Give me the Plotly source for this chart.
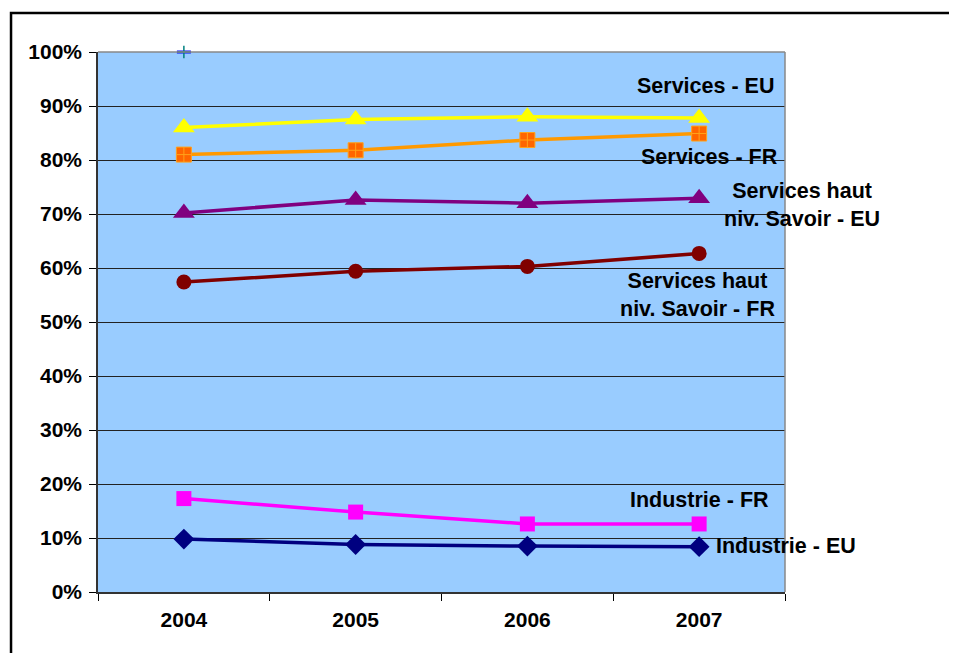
import plotly.graph_objects as go

years = ["2004", "2005", "2006", "2007"]
services_eu = [0.860, 0.875, 0.880, 0.878]
services_fr = [0.810, 0.818, 0.837, 0.849]
savoir_eu = [0.702, 0.726, 0.720, 0.729]
savoir_fr = [0.574, 0.594, 0.603, 0.627]
industrie_fr = [0.173, 0.148, 0.126, 0.126]
industrie_eu = [0.098, 0.088, 0.085, 0.084]
stray_year = ["2004"]
stray_value = [1.0]

FONT = "Liberation Sans, Arial, sans-serif"

fig = go.Figure()

def add_series(y, line_color, symbol, fill, size, edge=None, edge_w=0):
    fig.add_trace(go.Scatter(
        x=years, y=y, mode="lines+markers",
        line=dict(color=line_color, width=3.5),
        marker=dict(symbol=symbol, color=fill, size=size,
                    line=dict(color=edge or fill, width=edge_w)),
        showlegend=False, cliponaxis=False,
    ))

add_series(services_eu, "#FFFF00", "triangle-up", "#FFFF00", 19)
add_series(services_fr, "#FF9900", "square-cross", "#FF6600", 15, "#FFA31A", 1)
add_series(savoir_eu, "#800080", "triangle-up", "#800080", 19)
add_series(savoir_fr, "#800000", "circle", "#800000", 15)
add_series(industrie_fr, "#FF00FF", "square", "#FF00FF", 15)
add_series(industrie_eu, "#000080", "diamond", "#000080", 16)

# stray marker at 100%
fig.add_trace(go.Scatter(x=stray_year, y=stray_value, mode="markers",
                         marker=dict(symbol="line-ew", size=10,
                                     line=dict(color="#0000FF", width=3)),
                         showlegend=False, cliponaxis=False))
fig.add_trace(go.Scatter(x=stray_year, y=stray_value, mode="markers",
                         marker=dict(symbol="cross-thin", size=9,
                                     line=dict(color="#008080", width=1.5)),
                         showlegend=False, cliponaxis=False))

# series labels (paper coordinates)
labels = [
    ("Services - EU", 0.987, 0.937, "right"),
    ("Services - FR", 0.993, 0.806, "right"),
    ("Services haut<br>niv. Savoir - EU", 1.025, 0.717, "center"),
    ("Services haut<br>niv. Savoir - FR", 0.872, 0.550, "center"),
    ("Industrie - FR", 0.876, 0.170, "center"),
    ("Industrie - EU", 0.897, 0.085, "left"),
]
for text, x, y, anchor in labels:
    fig.add_annotation(x=x, y=y, xref="paper", yref="paper", text="<b>" + text + "</b>",
                       showarrow=False, xanchor=anchor, yanchor="middle",
                       align="center", font=dict(size=21.5, color="black", family=FONT))

# outer chart frame
fig.add_shape(type="rect", xref="paper", yref="paper",
              x0=-0.1266, x1=1.3, y0=-0.3, y1=1.0722,
              line=dict(color="black", width=2.5), layer="below")

fig.update_layout(
    width=957, height=653,
    margin=dict(l=90, r=180, t=44, b=69),
    paper_bgcolor="white", plot_bgcolor="#99CCFF",
    font=dict(family=FONT, size=21, color="black"),
)
fig.update_xaxes(type="category", range=[-0.5, 3.5], showgrid=False,
                 ticks="outside", tickson="boundaries", ticklen=7, tickcolor="black",
                 showline=True, linecolor="#333333", linewidth=1.5,
                 tickfont=dict(size=21, family=FONT, weight="bold"),
                 ticklabelstandoff=8, automargin=False)
fig.update_yaxes(range=[0, 1], dtick=0.1, tickformat=".0%",
                 showgrid=True, gridcolor="#222222", gridwidth=1,
                 ticks="outside", ticklen=7, tickcolor="black",
                 showline=True, linecolor="#333333", linewidth=1.5,
                 zeroline=False, ticklabelstandoff=3, automargin=False,
                 tickfont=dict(size=21, family=FONT, weight="bold"))
# right and top border of plot area in grey
fig.add_shape(type="line", xref="paper", yref="paper", x0=1, x1=1, y0=0, y1=1,
              line=dict(color="#888888", width=1.5))
fig.add_shape(type="line", xref="paper", yref="paper", x0=0, x1=1, y0=1, y1=1,
              line=dict(color="#888888", width=1.5))

fig.write_html("out.html")
